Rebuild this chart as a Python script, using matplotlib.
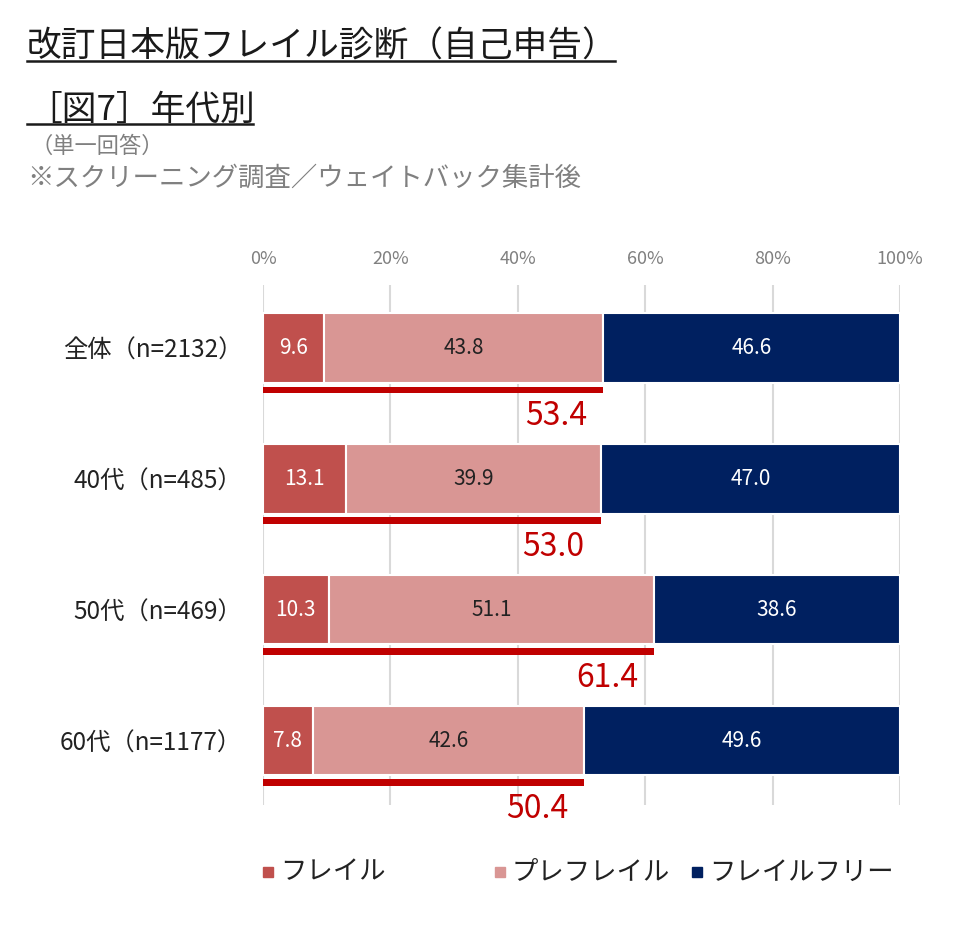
import matplotlib
matplotlib.use('Agg')
import matplotlib.pyplot as plt
from matplotlib.lines import Line2D
import numpy as np

plt.rcParams['font.family'] = ['Noto Sans CJK JP', 'DejaVu Sans']

# data
groups = ['全体（n=2132）', '40代（n=485）', '50代（n=469）', '60代（n=1177）']
frail = [9.6, 13.1, 10.3, 7.8]
prefrail = [43.8, 39.9, 51.1, 42.6]
free = [46.6, 47.0, 38.6, 49.6]
totals = [53.4, 53.0, 61.4, 50.4]
series_names = ['フレイル', 'プレフレイル', 'フレイルフリー']
colors = ['#C0504D', '#D99694', '#002060']
text_colors = ['white', '#222222', 'white']

fig = plt.figure(figsize=(9.6, 9.38), dpi=100)
ax = fig.add_axes([0.274, 0.142, 0.6635, 0.554])

y = np.arange(len(groups))
left = np.zeros(len(groups))
for vals, c, tc in zip([frail, prefrail, free], colors, text_colors):
    bars = ax.barh(y, vals, left=left, height=0.53, color=c, edgecolor='white', linewidth=1.5, zorder=3)
    for b, v in zip(bars, vals):
        ax.text(b.get_x() + b.get_width() / 2, b.get_y() + b.get_height() / 2, f'{v:.1f}',
                ha='center', va='center', color=tc, fontsize=15, zorder=4)
    left += np.array(vals)

# frail + prefrail underline and total
ax.barh(y + 0.32, totals, height=0.05, color='#C00000', zorder=3)
for yi, t in zip(y, totals):
    ax.text(t - 2.5, yi + 0.52, f'{t:.1f}', ha='right', va='center', color='#C00000', fontsize=23, zorder=4)

ax.set_xlim(0, 100)
ax.set_ylim(3.49, -0.48)
ax.set_xticks(range(0, 101, 20))
ax.set_xticklabels([f'{v}%' for v in range(0, 101, 20)])
ax.xaxis.tick_top()
ax.tick_params(axis='x', length=0, pad=12, labelsize=13, labelcolor='#808080')
ax.set_yticks(y)
ax.set_yticklabels(groups)
ax.tick_params(axis='y', length=0, pad=15, labelsize=17.5, labelcolor='#222222')
ax.grid(axis='x', color='#D9D9D9', linewidth=1.5, zorder=0)
for s in ax.spines.values():
    s.set_visible(False)

# titles
fig.text(27 / 960, 1 - 57 / 938, '改訂日本版フレイル診断（自己申告）', fontsize=25, color='#1a1a1a', va='baseline')
fig.add_artist(Line2D([27 / 960, 615 / 960], [1 - 61 / 938, 1 - 61 / 938], color='#1a1a1a', lw=1.8))
fig.text(27 / 960, 1 - 120 / 938, '［図7］年代別', fontsize=25, color='#1a1a1a', va='baseline')
fig.add_artist(Line2D([27 / 960, 253 / 960], [1 - 124 / 938, 1 - 124 / 938], color='#1a1a1a', lw=1.8))
fig.text(30 / 960, 1 - 146 / 938, '（単一回答）', fontsize=16, color='#808080', va='center')
fig.text(27 / 960, 1 - 178 / 938, '※スクリーニング調査／ウェイトバック集計後', fontsize=19, color='#808080', va='center')

# legend, placed item by item like the original
leg_y = 1 - 872 / 938
for name, c, sx in zip(series_names, colors, [268, 500, 697]):
    fig.add_artist(Line2D([sx / 960], [leg_y], marker='s', markersize=7, color=c, linestyle='none'))
    fig.text((sx + 12) / 960, leg_y, name, fontsize=19, color='#222222', va='center', ha='left')

fig.savefig('out.png', dpi=100)
